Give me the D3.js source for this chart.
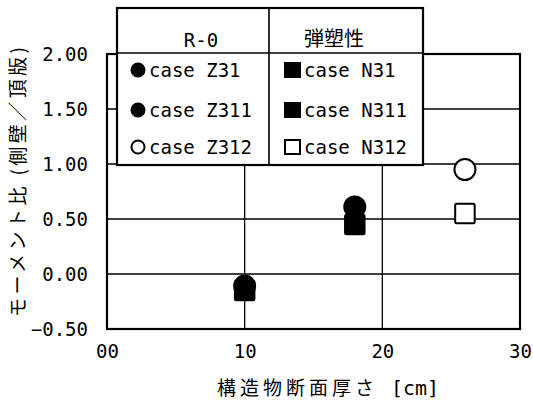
<!DOCTYPE html>
<html>
<head>
<meta charset="utf-8">
<script src="https://cdn.jsdelivr.net/npm/d3@7"></script>
<style>
  body { margin: 0; background: #fff; }
  text { fill: #000; }
</style>
</head>
<body>
<div id="chart"></div>
<script>
"use strict";

// data
var thickness = [10, 18, 26];                        // 構造物断面厚さ [cm]
var caseZ = ["case Z31", "case Z311", "case Z312"];  // R-0
var ratioZ = [-0.11, 0.61, 0.95];
var caseN = ["case N31", "case N311", "case N312"];  // 弾塑性
var ratioN = [-0.15, 0.45, 0.55];
var filled = [true, true, false];

var xTicks = [0, 10, 20, 30];
var xTickLabels = ["00", "10", "20", "30"];
var yTicks = [-0.5, 0, 0.5, 1.0, 1.5, 2.0];

var W = 533, H = 408;
var margin = { top: 54, right: 13, bottom: 79, left: 107 },
    w = W - margin.left - margin.right,
    h = H - margin.top - margin.bottom;

var monoFont = "'DejaVu Sans Mono', 'Liberation Mono', monospace";
var cjkFont = "'Noto Sans CJK JP', sans-serif";

var x = d3.scaleLinear().domain([0, 30]).range([0, w]);
var y = d3.scaleLinear().domain([-0.5, 2.0]).range([h, 0]);

var svg = d3.select("#chart").append("svg")
    .attr("width", W)
    .attr("height", H);

var g = svg.append("g")
    .attr("transform", "translate(" + margin.left + "," + margin.top + ")");

// grid lines
g.append("g")
    .selectAll("line.hgrid").data(yTicks)
    .join("line")
      .attr("x1", 0).attr("x2", w)
      .attr("y1", d => y(d)).attr("y2", d => y(d))
      .attr("stroke", "#000").attr("stroke-width", 1.3);

g.append("g")
    .selectAll("line.vgrid").data(xTicks)
    .join("line")
      .attr("x1", d => x(d)).attr("x2", d => x(d))
      .attr("y1", 0).attr("y2", h)
      .attr("stroke", "#000").attr("stroke-width", 1.3);

// frame
g.append("rect")
    .attr("width", w).attr("height", h)
    .attr("fill", "none")
    .attr("stroke", "#000")
    .attr("stroke-width", 2.2);

// axes (labels only)
var xAxis = d3.axisBottom(x)
    .tickValues(xTicks)
    .tickSize(0)
    .tickFormat((d, i) => xTickLabels[i]);
var xg = g.append("g")
    .attr("transform", "translate(0," + h + ")")
    .call(xAxis);
xg.select(".domain").remove();
xg.selectAll("text")
    .attr("y", 29).attr("dy", 0)
    .style("font-family", monoFont)
    .style("font-size", "19px");

var yAxis = d3.axisLeft(y)
    .tickValues(yTicks)
    .tickSize(0)
    .tickPadding(19)
    .tickFormat(d3.format(".2f"));
var yg = g.append("g").call(yAxis);
yg.select(".domain").remove();
yg.selectAll("text")
    .attr("dy", "0.36em")
    .style("font-family", monoFont)
    .style("font-size", "19px");

// points
var pts = g.append("g");
thickness.forEach(function(t, i) {
  var s = 19.5;
  pts.append("rect")
      .attr("x", x(t) - s / 2)
      .attr("y", y(ratioN[i]) - s / 2)
      .attr("width", s).attr("height", s)
      .attr("rx", 1.5)
      .attr("fill", filled[i] ? "#000" : "#fff")
      .attr("stroke", "#000").attr("stroke-width", 2);
  pts.append("circle")
      .attr("cx", x(t))
      .attr("cy", y(ratioZ[i]))
      .attr("r", 10.5)
      .attr("fill", filled[i] ? "#000" : "#fff")
      .attr("stroke", "#000").attr("stroke-width", 2);
});

// legend table
var legend = svg.append("g").attr("id", "legend-group");
legend.append("rect")
    .attr("x", 117).attr("y", 8)
    .attr("width", 306).attr("height", 157)
    .attr("fill", "#fff")
    .attr("stroke", "#000").attr("stroke-width", 2.2);
legend.append("line")
    .attr("x1", 117).attr("x2", 423).attr("y1", 53).attr("y2", 53)
    .attr("stroke", "#000").attr("stroke-width", 1.6);
legend.append("line")
    .attr("x1", 269).attr("x2", 269).attr("y1", 8).attr("y2", 165)
    .attr("stroke", "#000").attr("stroke-width", 1.6);

legend.append("text")
    .attr("x", 201).attr("y", 47)
    .attr("text-anchor", "middle")
    .style("font-family", monoFont).style("font-size", "19px")
    .text("R-0");
legend.append("text")
    .attr("x", 334).attr("y", 46)
    .attr("text-anchor", "middle")
    .style("font-family", cjkFont).style("font-size", "20px")
    .text("弾塑性");

var rowY = [70, 110, 147];

legend.selectAll("circle").data(caseZ)
    .join("circle")
      .attr("cx", 138)
      .attr("cy", (d, i) => rowY[i])
      .attr("r", 6.5)
      .attr("fill", (d, i) => filled[i] ? "#000" : "#fff")
      .attr("stroke", "#000").attr("stroke-width", 2);

legend.selectAll("text.zlab").data(caseZ)
    .join("text")
      .attr("class", "zlab")
      .attr("x", 149)
      .attr("y", (d, i) => rowY[i] + 7)
      .style("font-family", monoFont).style("font-size", "19px")
      .text(d => d);

legend.selectAll("rect.nsym").data(caseN)
    .join("rect")
      .attr("class", "nsym")
      .attr("x", 285)
      .attr("y", (d, i) => rowY[i] - 7)
      .attr("width", 15).attr("height", 14)
      .attr("fill", (d, i) => filled[i] ? "#000" : "#fff")
      .attr("stroke", "#000").attr("stroke-width", 2);

legend.selectAll("text.nlab").data(caseN)
    .join("text")
      .attr("class", "nlab")
      .attr("x", 304)
      .attr("y", (d, i) => rowY[i] + 7)
      .style("font-family", monoFont).style("font-size", "19px")
      .text(d => d);

// axis titles
svg.append("text")
    .attr("x", 217).attr("y", 395)
    .attr("textLength", 157).attr("lengthAdjust", "spacing")
    .style("font-family", cjkFont).style("font-size", "19px")
    .text("構造物断面厚さ");
svg.append("text")
    .attr("x", 391).attr("y", 395)
    .style("font-family", monoFont).style("font-size", "20px")
    .text("[cm]");

svg.append("text")
    .attr("transform", "translate(16,182) rotate(-90)")
    .attr("text-anchor", "middle")
    .attr("dominant-baseline", "central")
    .attr("textLength", 270).attr("lengthAdjust", "spacing")
    .style("font-family", cjkFont).style("font-size", "19px")
    .text("モーメント比 (側壁／頂版)");
</script>
</body>
</html>
